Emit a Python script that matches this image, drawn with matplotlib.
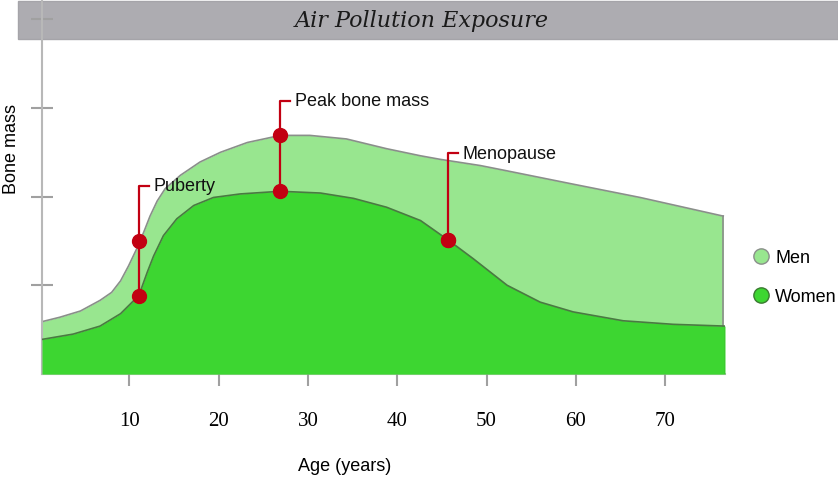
import matplotlib
matplotlib.use("Agg")
import matplotlib.pyplot as plt
from matplotlib.patches import Rectangle
from matplotlib.lines import Line2D

# values (age in years, bone mass in tick units)
men_age = [0.2, 2.2, 4.5, 6.7, 8.0, 9.0, 9.9, 10.8, 11.6, 12.3, 13.1, 14.0, 15.7,
           17.9, 20.2, 23.2, 26.9, 30.2, 34.3, 38.8, 42.6, 44.8, 49.3, 52.3, 59.7,
           67.2, 76.5]
men_mass = [0.59, 0.64, 0.71, 0.83, 0.92, 1.05, 1.22, 1.41, 1.60, 1.78, 1.95, 2.09, 2.24,
            2.39, 2.50, 2.61, 2.69, 2.69, 2.65, 2.54, 2.46, 2.42, 2.35, 2.29, 2.14,
            1.99, 1.78]

women_age = [0.2, 3.7, 6.7, 9.0, 10.5, 11.1, 12.0, 12.7, 13.8, 15.3, 17.2, 19.4, 22.4,
             23.9, 26.9, 31.4, 35.1, 38.8, 42.6, 45.7, 48.5, 52.3, 56.0, 59.7, 65.3,
             70.9, 76.7]
women_mass = [0.39, 0.45, 0.54, 0.68, 0.83, 0.90, 1.15, 1.33, 1.56, 1.75, 1.90, 1.99, 2.03,
              2.04, 2.06, 2.04, 1.98, 1.88, 1.73, 1.51, 1.30, 1.00, 0.81, 0.70, 0.60,
              0.56, 0.54]

events = ["Puberty", "Peak bone mass", "Menopause"]
event_age = [11.1, 26.9, 45.7]
event_top = [1.50, 2.69, 1.51]
event_bottom = [0.88, 2.06, 1.51]
event_label_y = [2.12, 3.08, 2.49]

xticks = [10, 20, 30, 40, 50, 60, 70]
yticks = [1, 2, 3, 4]

men_col = "#98e68f"
women_col = "#3dd631"
red = "#c20012"

fig = plt.figure(figsize=(8.38, 4.81), dpi=100)
W, H = 838, 481

# grey title bar, behind the axis line
fig.patches.append(Rectangle((18 / W, 1 - 40 / H), 820 / W, 38 / H,
                             transform=fig.transFigure, facecolor="#adacb1",
                             edgecolor="#a5a4a9", lw=1, zorder=-1))
fig.text(422 / W, 1 - 21 / H, "Air Pollution Exposure", ha="center", va="center",
         family="DejaVu Serif", style="italic", fontsize=16, color="#1a1a1a")

ax = fig.add_axes([42 / W, (H - 375) / H, (725 - 42) / W, 375 / H])
ax.patch.set_alpha(0)
ax.set_xlim(0.2, 76.7)
ax.set_ylim(0, 375 / 88.7)

ax.fill_between(men_age, 0, men_mass, color=men_col, lw=0, zorder=1)
ax.plot(men_age, men_mass, color="#8a8f8a", lw=1.2, zorder=2)
ax.plot([men_age[-1], men_age[-1]], [0, men_mass[-1]], color="#8a8f8a", lw=1.2, zorder=2)
ax.fill_between(women_age, 0, women_mass, color=women_col, lw=0, zorder=3)
ax.plot(women_age, women_mass, color="#4a7a42", lw=1.2, zorder=4)
ax.plot([women_age[-1], women_age[-1]], [0, women_mass[-1]], color="#3a9a30", lw=1, zorder=4)

for name, a, top, bot, ly in zip(events, event_age, event_top, event_bottom, event_label_y):
    ax.plot([a, a, a + 1.1], [bot, ly, ly], color=red, lw=1.6, zorder=5)
    ax.plot([a, a], [top, bot], "o", color=red, ms=10, zorder=6)
    ax.text(a + 1.6, ly, name, ha="left", va="center", fontsize=13,
            family="Liberation Sans", color="#111111", zorder=6)

for s in ["top", "right"]:
    ax.spines[s].set_visible(False)
ax.spines["left"].set_color("#b8b8b8")
ax.spines["left"].set_linewidth(1.5)
ax.spines["bottom"].set_color("#b4b4b4")
ax.spines["bottom"].set_linewidth(1.5)
ax.spines["bottom"].set_zorder(0.5)

ax.set_xticks(xticks)
ax.set_xticklabels([str(t) for t in xticks], family="Liberation Serif", fontsize=15)
ax.set_yticks(yticks)
ax.set_yticklabels([])
ax.tick_params(axis="x", direction="inout", length=17, width=1.5, color="#a0a0a0", pad=18)
ax.tick_params(axis="y", direction="inout", length=16, width=1.5, color="#a0a0a0")
for t, v in zip(ax.xaxis.get_major_ticks(), xticks):
    if v in (10, 70):
        t.tick1line.set_color("#222222")
    t.tick1line.set_zorder(7)
for t, v in zip(ax.yaxis.get_major_ticks(), yticks):
    if v == 1:
        t.tick1line.set_color("#222222")

ax.set_xlabel("Age (years)", family="Liberation Sans", fontsize=13)
ax.xaxis.set_label_coords((345 - 42) / 683, -(458 - 375) / 375)
ax.set_ylabel("Bone mass", family="Liberation Sans", fontsize=13)
ax.yaxis.set_label_coords((20 - 42) / 683, (375 - 149) / 375)

handles = [
    Line2D([], [], ls="", marker="o", ms=11, markerfacecolor=men_col,
           markeredgecolor="#8a8f8a", label="Men"),
    Line2D([], [], ls="", marker="o", ms=11, markerfacecolor=women_col,
           markeredgecolor="#3a7a30", label="Women"),
]
leg = fig.legend(handles=handles, loc="center left", bbox_to_anchor=(748 / W, 1 - 278 / H),
                 frameon=False, handlelength=1.0, handletextpad=0.3, labelspacing=1.2,
                 borderaxespad=0, borderpad=0.2,
                 prop={"family": "Liberation Sans", "size": 13})

fig.savefig("out.png", dpi=100)
